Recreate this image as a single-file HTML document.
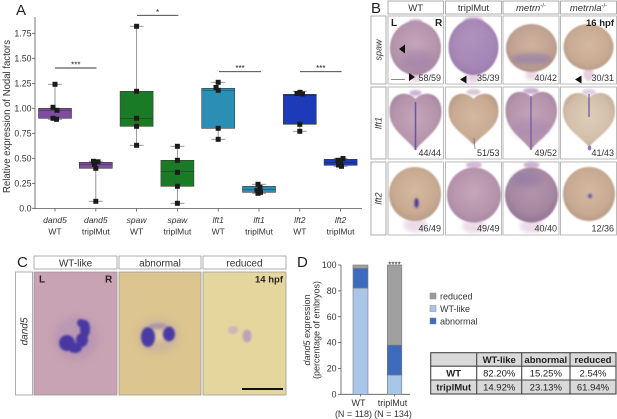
<!DOCTYPE html>
<html><head><meta charset="utf-8"><style>
html,body{margin:0;padding:0;background:#fff;}
svg{display:block;font-family:"Liberation Sans",sans-serif;}
.w{stroke:#8c8c8c;stroke-width:.9;fill:none}
.b{stroke:#3a3a3a;stroke-width:.6}
.m{stroke:#111;stroke-opacity:.5;stroke-width:.7}
.p{fill:#1b1b1b}
.ax{stroke:#555;stroke-width:.8;fill:none}
.cell{fill:#fff;stroke:#aaa;stroke-width:.8}
.hb{fill:#fff;stroke:#999;stroke-width:.8}
</style></head><body>
<svg width="617" height="419" viewBox="0 0 617 419" xmlns="http://www.w3.org/2000/svg">
<defs>
<filter id="bl05" x="-20%" y="-20%" width="140%" height="140%"><feGaussianBlur stdDeviation="0.7"/></filter>
<filter id="bl1" x="-50%" y="-50%" width="200%" height="200%"><feGaussianBlur stdDeviation="1"/></filter>
<filter id="bl2" x="-50%" y="-50%" width="200%" height="200%"><feGaussianBlur stdDeviation="2"/></filter>
<filter id="bl3" x="-50%" y="-50%" width="200%" height="200%"><feGaussianBlur stdDeviation="3.5"/></filter>
<radialGradient id="gM" cx="50%" cy="45%" r="55%"><stop offset="0" stop-color="#c4a6b9"/><stop offset=".75" stop-color="#b694ac"/><stop offset="1" stop-color="#a88aa3"/></radialGradient>
<radialGradient id="gP" cx="50%" cy="45%" r="55%"><stop offset="0" stop-color="#b79ac3"/><stop offset=".75" stop-color="#a687b6"/><stop offset="1" stop-color="#9a7cac"/></radialGradient>
<radialGradient id="gT" cx="50%" cy="45%" r="55%"><stop offset="0" stop-color="#d3b9a0"/><stop offset=".75" stop-color="#c7aa91"/><stop offset="1" stop-color="#b99c88"/></radialGradient>
<radialGradient id="gT2" cx="50%" cy="45%" r="55%"><stop offset="0" stop-color="#cfb29e"/><stop offset=".75" stop-color="#c0a291"/><stop offset="1" stop-color="#b09489"/></radialGradient>
<radialGradient id="gL" cx="50%" cy="45%" r="55%"><stop offset="0" stop-color="#ddcdb9"/><stop offset=".75" stop-color="#d3bfa9"/><stop offset="1" stop-color="#c5ae9b"/></radialGradient>
<radialGradient id="gD" cx="50%" cy="40%" r="55%"><stop offset="0" stop-color="#b396ab"/><stop offset=".75" stop-color="#a588a0"/><stop offset="1" stop-color="#977999"/></radialGradient>
</defs>

<!-- ================= PANEL A ================= -->
<text x="16" y="15" font-size="15" fill="#222">A</text>
<text transform="translate(10,116.5) rotate(-90)" text-anchor="middle" font-size="10" fill="#333" textLength="153" lengthAdjust="spacingAndGlyphs">Relative expression of Nodal factors</text>
<line class="ax" x1="35" y1="17" x2="35" y2="208.8"/>
<line class="ax" x1="34.6" y1="208.5" x2="362" y2="208.5"/>
<g stroke="#555" stroke-width=".8">
<line x1="32" y1="208.3" x2="35" y2="208.3"/><line x1="32" y1="183.3" x2="35" y2="183.3"/>
<line x1="32" y1="158.3" x2="35" y2="158.3"/><line x1="32" y1="133.3" x2="35" y2="133.3"/>
<line x1="32" y1="108.3" x2="35" y2="108.3"/><line x1="32" y1="83.3" x2="35" y2="83.3"/>
<line x1="32" y1="58.3" x2="35" y2="58.3"/><line x1="32" y1="33.3" x2="35" y2="33.3"/>
<line x1="55" y1="208.5" x2="55" y2="211.5"/><line x1="95.8" y1="208.5" x2="95.8" y2="211.5"/>
<line x1="136.6" y1="208.5" x2="136.6" y2="211.5"/><line x1="177.4" y1="208.5" x2="177.4" y2="211.5"/>
<line x1="218.2" y1="208.5" x2="218.2" y2="211.5"/><line x1="259" y1="208.5" x2="259" y2="211.5"/>
<line x1="299.8" y1="208.5" x2="299.8" y2="211.5"/><line x1="340.6" y1="208.5" x2="340.6" y2="211.5"/>
</g>
<g font-size="8.8" fill="#333" text-anchor="end">
<text x="31.5" y="211.5">0.0</text><text x="31.5" y="186.5">0.25</text><text x="31.5" y="161.5">0.50</text>
<text x="31.5" y="136.5">0.75</text><text x="31.5" y="111.5">1.00</text><text x="31.5" y="86.5">1.25</text>
<text x="31.5" y="61.5">1.50</text><text x="31.5" y="36.5">1.75</text>
</g>
<g font-size="8.5" fill="#333" text-anchor="middle">
<g font-style="italic">
<text x="55" y="223">dand5</text><text x="95.8" y="223">dand5</text><text x="136.6" y="223">spaw</text><text x="177.4" y="223">spaw</text>
<text x="218.2" y="223">lft1</text><text x="259" y="223">lft1</text><text x="299.8" y="223">lft2</text><text x="340.6" y="223">lft2</text>
</g>
<text x="55" y="234.5">WT</text><text x="95.8" y="234.5">triplMut</text><text x="136.6" y="234.5">WT</text><text x="177.4" y="234.5">triplMut</text>
<text x="218.2" y="234.5">WT</text><text x="259" y="234.5">triplMut</text><text x="299.8" y="234.5">WT</text><text x="340.6" y="234.5">triplMut</text>
</g>

<!-- significance -->
<g stroke="#333" stroke-width=".9">
<line x1="55" y1="68" x2="96.5" y2="68"/>
<line x1="137" y1="15.3" x2="178.3" y2="15.3"/>
<line x1="219" y1="71.7" x2="261" y2="71.7"/>
<line x1="300" y1="71.7" x2="341.7" y2="71.7"/>
</g>
<g font-size="8" fill="#222" text-anchor="middle">
<text x="75.8" y="67.5">***</text>
<text x="157.6" y="15">*</text>
<text x="240" y="71">***</text>
<text x="320.8" y="71">***</text>
</g>

<!-- Box 1 dand5 WT -->
<line class="w" x1="55" y1="84.3" x2="55" y2="119.3"/>
<line class="w" x1="48" y1="84.3" x2="62" y2="84.3"/><line class="w" x1="48" y1="119.3" x2="62" y2="119.3"/>
<rect class="b" x="38.5" y="108.3" width="33" height="10" fill="#7f4e9f"/>
<line class="m" x1="38.5" y1="110.3" x2="71.5" y2="110.3"/>
<rect class="p" x="52.5" y="81.8" width="5" height="5"/><rect class="p" x="50.5" y="104.8" width="5" height="5"/>
<rect class="p" x="54.5" y="107.8" width="5" height="5"/><rect class="p" x="50.5" y="115.8" width="5" height="5"/>
<rect class="p" x="54" y="116.8" width="5" height="5"/>

<!-- Box 2 dand5 tripl -->
<line class="w" x1="95.8" y1="161.3" x2="95.8" y2="201.3"/>
<line class="w" x1="88.8" y1="161.3" x2="102.8" y2="161.3"/><line class="w" x1="88.8" y1="201.3" x2="102.8" y2="201.3"/>
<rect class="b" x="79.3" y="162.3" width="33" height="6" fill="#7f4e9f"/>
<line class="m" x1="79.3" y1="164.3" x2="112.3" y2="164.3"/>
<rect class="p" x="91" y="158.8" width="5" height="5"/><rect class="p" x="95.5" y="159.3" width="5" height="5"/>
<rect class="p" x="92" y="162" width="5" height="5"/><rect class="p" x="93.3" y="165.8" width="5" height="5"/>
<rect class="p" x="93.3" y="198.8" width="5" height="5"/>

<!-- Box 3 spaw WT -->
<line class="w" x1="136.6" y1="26.3" x2="136.6" y2="145.3"/>
<line class="w" x1="129.6" y1="26.3" x2="143.6" y2="26.3"/><line class="w" x1="129.6" y1="145.3" x2="143.6" y2="145.3"/>
<rect class="b" x="120.1" y="91.3" width="33" height="35" fill="#1b7a26"/>
<line class="m" x1="120.1" y1="118.3" x2="153.1" y2="118.3"/>
<rect class="p" x="134.1" y="23.8" width="5" height="5"/><rect class="p" x="134.1" y="88.8" width="5" height="5"/>
<rect class="p" x="134.1" y="115.8" width="5" height="5"/><rect class="p" x="134.1" y="123.8" width="5" height="5"/>
<rect class="p" x="134.1" y="142.8" width="5" height="5"/>

<!-- Box 4 spaw tripl -->
<line class="w" x1="177.4" y1="146.3" x2="177.4" y2="203.3"/>
<line class="w" x1="170.4" y1="146.3" x2="184.4" y2="146.3"/><line class="w" x1="170.4" y1="203.3" x2="184.4" y2="203.3"/>
<rect class="b" x="160.9" y="160.3" width="33" height="26" fill="#1b7a26"/>
<line class="m" x1="160.9" y1="171.3" x2="193.9" y2="171.3"/>
<rect class="p" x="174.9" y="143.8" width="5" height="5"/><rect class="p" x="174.9" y="157.8" width="5" height="5"/>
<rect class="p" x="174.9" y="169.8" width="5" height="5"/><rect class="p" x="174.9" y="183.8" width="5" height="5"/>
<rect class="p" x="174.9" y="200.8" width="5" height="5"/>

<!-- Box 5 lft1 WT -->
<line class="w" x1="218.2" y1="82.3" x2="218.2" y2="139.3"/>
<line class="w" x1="211.2" y1="82.3" x2="225.2" y2="82.3"/><line class="w" x1="211.2" y1="139.3" x2="225.2" y2="139.3"/>
<rect class="b" x="201.7" y="88.3" width="33" height="40" fill="#2b8fb5"/>
<line class="m" x1="201.7" y1="90.3" x2="234.7" y2="90.3"/>
<rect class="p" x="215.7" y="79.8" width="5" height="5"/><rect class="p" x="213.5" y="85" width="5" height="5"/>
<rect class="p" x="215.7" y="87.8" width="5" height="5"/><rect class="p" x="215.7" y="125.8" width="5" height="5"/>
<rect class="p" x="215.7" y="136.8" width="5" height="5"/>

<!-- Box 6 lft1 tripl -->
<line class="w" x1="259" y1="184.3" x2="259" y2="193.3"/>
<line class="w" x1="252" y1="184.3" x2="266" y2="184.3"/><line class="w" x1="252" y1="193.3" x2="266" y2="193.3"/>
<rect class="b" x="242.5" y="186.3" width="33" height="6" fill="#2b8fb5"/>
<line class="m" x1="242.5" y1="189.3" x2="275.5" y2="189.3"/>
<rect class="p" x="255.5" y="181.8" width="5" height="5"/><rect class="p" x="257.5" y="184.8" width="5" height="5"/>
<rect class="p" x="254.5" y="187.8" width="5" height="5"/><rect class="p" x="258" y="189.8" width="5" height="5"/>
<rect class="p" x="255.5" y="190.8" width="5" height="5"/>

<!-- Box 7 lft2 WT -->
<line class="w" x1="299.8" y1="91.3" x2="299.8" y2="131.3"/>
<line class="w" x1="292.8" y1="91.3" x2="306.8" y2="91.3"/><line class="w" x1="292.8" y1="131.3" x2="306.8" y2="131.3"/>
<rect class="b" x="283.3" y="94.3" width="33" height="30" fill="#1d3bb8"/>
<line class="m" x1="283.3" y1="95.3" x2="316.3" y2="95.3"/>
<rect class="p" x="294.5" y="91" width="5" height="5"/><rect class="p" x="297.5" y="89.8" width="5" height="5"/>
<rect class="p" x="300" y="91.5" width="5" height="5"/><rect class="p" x="297.3" y="121.8" width="5" height="5"/>
<rect class="p" x="297.3" y="128.8" width="5" height="5"/>

<!-- Box 8 lft2 tripl -->
<line class="w" x1="340.6" y1="158.3" x2="340.6" y2="166.3"/>
<line class="w" x1="333.6" y1="158.3" x2="347.6" y2="158.3"/><line class="w" x1="333.6" y1="166.3" x2="347.6" y2="166.3"/>
<rect class="b" x="324.1" y="159.3" width="33" height="6" fill="#1d3bb8"/>
<line class="m" x1="324.1" y1="162.3" x2="357.1" y2="162.3"/>
<rect class="p" x="335.5" y="157.8" width="5" height="5"/><rect class="p" x="340.5" y="156" width="5" height="5"/>
<rect class="p" x="338.1" y="159.8" width="5" height="5"/><rect class="p" x="336" y="162.5" width="5" height="5"/>
<rect class="p" x="339" y="163.8" width="5" height="5"/>

<!-- ================= PANEL B ================= -->
<text x="371" y="13" font-size="15" fill="#222">B</text>
<g>
<rect class="hb" x="388" y="1" width="55.5" height="13"/>
<rect class="hb" x="445.5" y="1" width="56" height="13"/>
<rect class="hb" x="503" y="1" width="56" height="13"/>
<rect class="hb" x="560.5" y="1" width="56" height="13"/>
</g>
<g font-size="9.5" fill="#333" text-anchor="middle">
<text x="415.7" y="11">WT</text>
<text x="473.5" y="11">triplMut</text>
<text x="531" y="11"><tspan font-style="italic">metrn</tspan><tspan font-size="6" dy="-3.5">-/-</tspan></text>
<text x="588.5" y="11"><tspan font-style="italic">metrnla</tspan><tspan font-size="6" dy="-3.5">-/-</tspan></text>
</g>
<!-- row label boxes -->
<rect class="hb" x="371" y="16" width="15" height="68"/>
<rect class="hb" x="371" y="87" width="15" height="72"/>
<rect class="hb" x="371" y="162" width="15" height="73"/>
<g font-size="9" font-style="italic" fill="#333" text-anchor="middle">
<text transform="translate(381.5,50) rotate(-90)">spaw</text>
<text transform="translate(381.5,123) rotate(-90)">lft1</text>
<text transform="translate(381.5,198.5) rotate(-90)">lft2</text>
</g>
<!-- cells -->
<g>
<rect class="cell" x="388" y="16" width="55.5" height="68"/><rect class="cell" x="445.5" y="16" width="56" height="68"/>
<rect class="cell" x="503" y="16" width="56" height="68"/><rect class="cell" x="560.5" y="16" width="56" height="68"/>
<rect class="cell" x="388" y="87" width="55.5" height="72"/><rect class="cell" x="445.5" y="87" width="56" height="72"/>
<rect class="cell" x="503" y="87" width="56" height="72"/><rect class="cell" x="560.5" y="87" width="56" height="72"/>
<rect class="cell" x="388" y="162" width="55.5" height="73"/><rect class="cell" x="445.5" y="162" width="56" height="73"/>
<rect class="cell" x="503" y="162" width="56" height="73"/><rect class="cell" x="560.5" y="162" width="56" height="73"/>
</g>

<!-- Row 1 embryos -->
<g>
<ellipse cx="415.5" cy="76" rx="7" ry="6" fill="#e4d0e1" filter="url(#bl2)"/>
<ellipse cx="415.5" cy="22" rx="7" ry="3" fill="#c9afd2" filter="url(#bl1)"/>
<ellipse cx="415.5" cy="48" rx="25.5" ry="27" fill="url(#gM)" filter="url(#bl05)"/>
<ellipse cx="418" cy="60" rx="16" ry="10" fill="#8c6fa6" opacity=".35" filter="url(#bl3)"/>

<ellipse cx="473.5" cy="77" rx="8" ry="6" fill="#e6d3e3" filter="url(#bl2)"/>
<ellipse cx="473.5" cy="21" rx="10" ry="4" fill="#c7acd2" filter="url(#bl1)"/>
<ellipse cx="473.5" cy="47" rx="25" ry="28" fill="url(#gP)" filter="url(#bl05)"/>
<ellipse cx="478" cy="50" rx="14" ry="14" fill="#9a7cb0" opacity=".3" filter="url(#bl3)"/>

<ellipse cx="531.5" cy="74" rx="6" ry="6" fill="#e8d6e2" filter="url(#bl2)"/>
<ellipse cx="531.5" cy="48" rx="25.5" ry="24" fill="url(#gT2)" filter="url(#bl05)"/>
<ellipse cx="531.5" cy="59" rx="20" ry="6" fill="#8a75ad" opacity=".55" filter="url(#bl2)"/>

<ellipse cx="588.5" cy="74" rx="5" ry="7" fill="#e6cfdf" filter="url(#bl1)"/>
<ellipse cx="588.5" cy="47" rx="25" ry="23" fill="url(#gT)" filter="url(#bl05)"/>
</g>

<!-- Row 2 embryos (heart) -->
<g>
<ellipse cx="415.5" cy="93" rx="6" ry="3" fill="#cdb3d4" filter="url(#bl1)"/>
<path d="M415.5,99 C409.5,91 389.5,90 389.5,112 C389.5,130 406.5,138 415.5,150 C424.5,138 441.5,130 441.5,112 C441.5,90 421.5,91 415.5,99 Z" fill="url(#gM)" filter="url(#bl05)"/>
<line x1="415.5" y1="102" x2="415.5" y2="150" stroke="#5d4aa3" stroke-width="1.6" opacity=".85"/>

<ellipse cx="473.5" cy="92" rx="7" ry="3" fill="#d9c6d6" filter="url(#bl1)"/>
<path d="M473.5,99 C467.5,91 448.5,90 448.5,111 C448.5,128 464.5,134 473.5,145 C482.5,134 498.5,128 498.5,111 C498.5,90 479.5,91 473.5,99 Z" fill="url(#gT)" filter="url(#bl05)"/>
<line x1="474" y1="138" x2="475" y2="149" stroke="#6a5aa3" stroke-width="1" opacity=".7"/>

<ellipse cx="531" cy="91" rx="8" ry="3" fill="#c8acd2" filter="url(#bl1)"/>
<path d="M531,97 C525,89 505.5,88 505.5,111 C505.5,130 522,138 531,150 C540,138 557,130 557,111 C557,88 537,89 531,97 Z" fill="url(#gM)" filter="url(#bl05)"/>
<ellipse cx="531" cy="128" rx="18" ry="10" fill="#9a7cae" opacity=".35" filter="url(#bl3)"/>
<line x1="531" y1="96" x2="531" y2="150" stroke="#5f4ea3" stroke-width="1.3" opacity=".8"/>

<ellipse cx="589" cy="92" rx="7" ry="3" fill="#ddd0e0" filter="url(#bl1)"/>
<path d="M589,98 C583,90 563,90 563,111 C563,129 580,136 589,147 C598,136 615,129 615,111 C615,90 595,90 589,98 Z" fill="url(#gL)" filter="url(#bl05)"/>
<line x1="589" y1="94" x2="589" y2="117" stroke="#5a4aa3" stroke-width="1.3" opacity=".85"/>
<ellipse cx="589.5" cy="148" rx="1.8" ry="2.5" fill="#6a5aa3" opacity=".8"/>
</g>

<!-- Row 3 embryos -->
<g>
<ellipse cx="415.5" cy="225" rx="12" ry="7" fill="#ecdbe8" filter="url(#bl2)"/>
<ellipse cx="415" cy="194" rx="26" ry="27" fill="url(#gT)" filter="url(#bl05)"/>
<ellipse cx="416.5" cy="203" rx="2.2" ry="5" fill="#4d3a9e" filter="url(#bl1)"/>

<ellipse cx="474" cy="226" rx="12" ry="7" fill="#eddce9" filter="url(#bl2)"/>
<ellipse cx="474" cy="165" rx="8" ry="3.5" fill="#d2b9d8" filter="url(#bl1)"/>
<ellipse cx="474" cy="195" rx="27" ry="27.5" fill="url(#gM)" filter="url(#bl05)"/>

<ellipse cx="531.5" cy="226" rx="12" ry="7" fill="#ecdbe8" filter="url(#bl2)"/>
<ellipse cx="531.5" cy="165" rx="8" ry="3.5" fill="#cdb2d6" filter="url(#bl1)"/>
<ellipse cx="531.5" cy="195" rx="26.5" ry="27.5" fill="url(#gD)" filter="url(#bl05)"/>
<ellipse cx="527" cy="180" rx="14" ry="8" fill="#7e68a8" opacity=".35" filter="url(#bl3)"/>

<ellipse cx="589" cy="194" rx="26" ry="27" fill="url(#gT)" filter="url(#bl05)"/>
<ellipse cx="590" cy="196" rx="2" ry="2.2" fill="#5f4da3" filter="url(#bl1)"/>
</g>

<!-- B overlays: arrows, scale bar, text -->
<polygon points="399,49 405,44.5 405,53.5" fill="#111"/>
<polygon points="415,77 409,73 409,81" fill="#111"/>
<polygon points="460,79.5 466.5,75.5 466.5,83.5" fill="#111"/>
<polygon points="575,79.5 581.5,75.5 581.5,83.5" fill="#111"/>
<line x1="391" y1="79.5" x2="405" y2="79.5" stroke="#888" stroke-width="1"/>
<g font-size="9" fill="#333" text-anchor="end">
<text x="441" y="81">58/59</text><text x="499.5" y="81">35/39</text><text x="557" y="81">40/42</text><text x="614" y="81">30/31</text>
<text x="441" y="156">44/44</text><text x="499.5" y="156">51/53</text><text x="557" y="156">49/52</text><text x="614" y="156">41/43</text>
<text x="441" y="231.5">46/49</text><text x="499.5" y="231.5">49/49</text><text x="557" y="231.5">40/40</text><text x="614" y="231.5">12/36</text>
</g>
<g font-size="10" font-weight="bold" fill="#222">
<text x="391" y="26">L</text><text x="435" y="26">R</text>
<text x="614" y="26" text-anchor="end" font-size="9.5">16 hpf</text>
</g>

<!-- ================= PANEL C ================= -->
<text x="17" y="267" font-size="15" fill="#222">C</text>
<rect class="hb" x="34" y="256" width="83" height="13"/>
<rect class="hb" x="119" y="256" width="82" height="13"/>
<rect class="hb" x="203" y="256" width="83" height="13"/>
<g font-size="10" fill="#333" text-anchor="middle">
<text x="75.5" y="266.5">WT-like</text>
<text x="160" y="266.5">abnormal</text>
<text x="244.5" y="266.5">reduced</text>
</g>
<rect class="hb" x="15.5" y="272" width="17" height="123"/>
<text transform="translate(27.5,331.5) rotate(-90)" text-anchor="middle" font-size="10" font-style="italic" fill="#333">dand5</text>

<!-- C images -->
<rect x="34" y="272" width="83" height="123" fill="#c7a3b3" stroke="#999" stroke-width=".8"/>
<ellipse cx="76" cy="338" rx="22" ry="22" fill="#a584b2" opacity=".35" filter="url(#bl3)"/>
<g fill="#4838a2" filter="url(#bl1)">
<ellipse cx="67" cy="343" rx="8" ry="8"/>
<ellipse cx="75" cy="348" rx="7" ry="5"/>
<ellipse cx="82" cy="340" rx="6" ry="7"/>
<ellipse cx="85" cy="329" rx="5" ry="9"/>
<ellipse cx="81" cy="323" rx="4" ry="4"/>
</g>
<rect x="119" y="272" width="82" height="123" fill="#dcc58e" stroke="#999" stroke-width=".8"/>
<ellipse cx="158" cy="336" rx="22" ry="18" fill="#c0a8a8" opacity=".45" filter="url(#bl3)"/>
<ellipse cx="158" cy="336" rx="6" ry="6" fill="#ddcba4" filter="url(#bl2)"/>
<g fill="#4a3aa4" filter="url(#bl1)">
<ellipse cx="148" cy="337" rx="7" ry="10"/>
<ellipse cx="169" cy="334" rx="6" ry="7.5"/>
</g>
<ellipse cx="158" cy="326" rx="9" ry="3" fill="#8e78b0" opacity=".5" filter="url(#bl1)"/>
<rect x="203" y="272" width="83" height="123" fill="#e5d69e" stroke="#999" stroke-width=".8"/>
<g filter="url(#bl1)">
<ellipse cx="233" cy="330" rx="5" ry="4" fill="#c4a6c0" opacity=".7"/>
<ellipse cx="247" cy="336" rx="4.5" ry="6.5" fill="#b592c2" opacity=".8"/>
</g>
<g font-size="10" font-weight="bold" fill="#2a2222">
<text x="39" y="282.5">L</text><text x="105" y="282.5">R</text>
<text x="283" y="282.5" text-anchor="end" font-size="9.5">14 hpf</text>
</g>
<line x1="242" y1="389" x2="283" y2="389" stroke="#111" stroke-width="2"/>

<!-- ================= PANEL D ================= -->
<text x="297" y="267" font-size="15" fill="#222">D</text>
<g font-size="9" fill="#333" text-anchor="middle">
<text transform="translate(310,330) rotate(-90)"><tspan font-style="italic">dand5</tspan> expression</text>
<text transform="translate(319.5,330) rotate(-90)">(percentage of embryos)</text>
</g>
<line class="ax" x1="341" y1="265" x2="341" y2="394.6"/>
<line class="ax" x1="340.6" y1="394.3" x2="410" y2="394.3"/>
<g stroke="#555" stroke-width=".8">
<line x1="338" y1="265" x2="341" y2="265"/><line x1="338" y1="290.9" x2="341" y2="290.9"/>
<line x1="338" y1="316.7" x2="341" y2="316.7"/><line x1="338" y1="342.6" x2="341" y2="342.6"/>
<line x1="338" y1="368.4" x2="341" y2="368.4"/><line x1="338" y1="394.3" x2="341" y2="394.3"/>
<line x1="360.5" y1="394.3" x2="360.5" y2="396.5"/><line x1="394.5" y1="394.3" x2="394.5" y2="396.5"/>
</g>
<g font-size="8.8" fill="#333" text-anchor="end">
<text x="336.5" y="268">100</text><text x="336.5" y="294">80</text><text x="336.5" y="319.8">60</text>
<text x="336.5" y="345.7">40</text><text x="336.5" y="371.5">20</text><text x="336.5" y="397.4">0</text>
</g>
<!-- bars -->
<g stroke="#7a7a7a" stroke-width=".6">
<rect x="353" y="288" width="15" height="106.3" fill="#a9c5e8"/>
<rect x="353" y="268.3" width="15" height="19.7" fill="#3d6cbd"/>
<rect x="353" y="265" width="15" height="3.3" fill="#a0a0a0"/>
<rect x="387.3" y="375" width="14.5" height="19.3" fill="#a9c5e8"/>
<rect x="387.3" y="345.1" width="14.5" height="29.9" fill="#3d6cbd"/>
<rect x="387.3" y="265" width="14.5" height="80.1" fill="#a0a0a0"/>
</g>
<text x="394.5" y="267.5" font-size="8" fill="#222" text-anchor="middle">****</text>
<g font-size="9" fill="#333" text-anchor="middle">
<text x="358.5" y="406">WT</text><text x="392.5" y="406">triplMut</text>
<text x="353.5" y="417">(N = 118)</text><text x="393" y="417">(N = 134)</text>
</g>
<!-- legend -->
<rect x="430" y="293" width="6" height="6" fill="#9c9c9c" stroke="#888" stroke-width=".5"/>
<rect x="430" y="305.5" width="6" height="6" fill="#a9c5e8" stroke="#888" stroke-width=".5"/>
<rect x="430" y="318" width="6" height="6" fill="#3d6cbd" stroke="#888" stroke-width=".5"/>
<g font-size="9" fill="#333">
<text x="440" y="299.3">reduced</text>
<text x="440" y="311.8">WT-like</text>
<text x="440" y="324.3">abnormal</text>
</g>
<!-- table -->
<rect x="430.7" y="352.7" width="185.3" height="13.5" fill="#d9d9d9"/>
<rect x="430.7" y="366.2" width="185.3" height="13.8" fill="#fff"/>
<rect x="430.7" y="380" width="185.3" height="14" fill="#d9d9d9"/>
<g stroke="#444" stroke-width="1.1" fill="none">
<rect x="430.7" y="352.7" width="185.3" height="41.3"/>
<line x1="430.7" y1="366.2" x2="616" y2="366.2"/>
<line x1="430.7" y1="380" x2="616" y2="380"/>
<line x1="476.7" y1="352.7" x2="476.7" y2="394"/>
<line x1="521.7" y1="352.7" x2="521.7" y2="394"/>
<line x1="570" y1="352.7" x2="570" y2="394"/>
</g>
<g font-size="9.5" fill="#222" text-anchor="middle">
<g font-weight="bold">
<text x="499.2" y="363">WT-like</text><text x="545.8" y="363">abnormal</text><text x="593" y="363">reduced</text>
<text x="453.7" y="376.7">WT</text><text x="453.7" y="390.5">triplMut</text>
</g>
<text x="499.2" y="376.7">82.20%</text><text x="545.8" y="376.7">15.25%</text><text x="593" y="376.7">2.54%</text>
<text x="499.2" y="390.5">14.92%</text><text x="545.8" y="390.5">23.13%</text><text x="593" y="390.5">61.94%</text>
</g>
</svg>
</body></html>
